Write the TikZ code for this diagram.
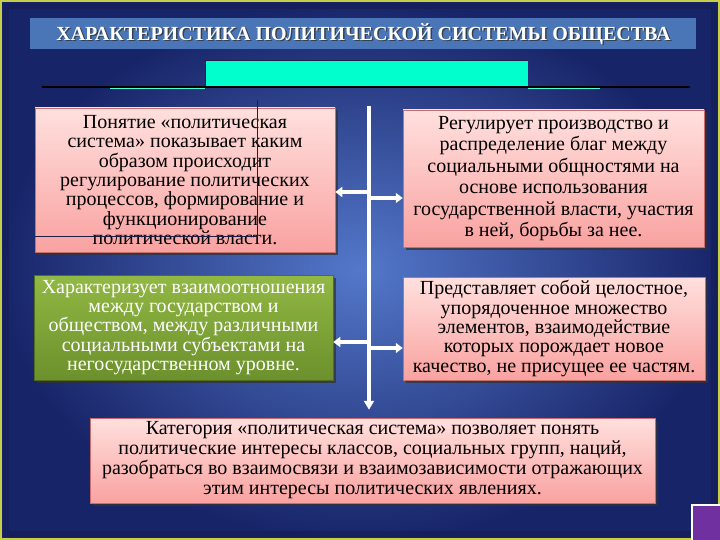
\documentclass[tikz,border=0pt]{standalone}
\usepackage{fontspec}
\setmainfont{Liberation Serif}
\usetikzlibrary{arrows.meta,shadows}
\definecolor{bgin}{RGB}{84,120,202}
\definecolor{bgout}{RGB}{24,36,104}
\definecolor{titlebar}{RGB}{74,118,184}
\definecolor{cyanbar}{RGB}{0,255,204}
\definecolor{pinktop}{RGB}{255,224,222}
\definecolor{pinkbot}{RGB}{249,162,160}
\definecolor{pinkedge}{RGB}{200,110,110}
\definecolor{greentop}{RGB}{146,184,68}
\definecolor{greenbot}{RGB}{108,144,44}
\definecolor{greenedge}{RGB}{80,110,30}
\definecolor{purplesq}{RGB}{112,48,160}
\definecolor{frameline}{RGB}{200,205,70}
\definecolor{artline}{RGB}{30,30,70}
\tikzset{
  boxbase/.style={rectangle, align=center, inner sep=1pt, font=\fontsize{20}{19.4}\selectfont,
    drop shadow={shadow xshift=2.5pt, shadow yshift=-2.5pt, opacity=0.75, fill=black!80}},
  pinkbox/.style={boxbase, top color=pinktop, bottom color=pinkbot, draw=pinkedge, line width=0.5pt, text=black},
  greenbox/.style={boxbase, top color=greentop, bottom color=greenbot, draw=greenedge, line width=0.5pt, text=white},
  whitearrow/.style={draw=white, line width=3.8pt, -{Triangle[width=10pt,length=7pt]}},
  spine/.style={draw=white, line width=3.5pt, -{Triangle[width=10pt,length=9pt]}}
}
\begin{document}
\begin{tikzpicture}[x=1pt,y=-1pt]
\useasboundingbox (0,0) rectangle (720,540);
% background
\shade[inner color=bgin, outer color=bgout] (0,0) rectangle (720,540);
\draw[bgout!80!black, line width=6pt, opacity=0.6] (6,6) rectangle (714,534);
\draw[frameline, line width=1.5pt] (1,1) rectangle (719,539);
% title bar
\fill[titlebar] (30,18) rectangle (696,49);
\node[font=\fontsize{20}{22}\bfseries, text=black!80, opacity=0.8] at (365,35.5) {ХАРАКТЕРИСТИКА ПОЛИТИЧЕСКОЙ СИСТЕМЫ ОБЩЕСТВА};
\node (title) [font=\fontsize{20}{22}\bfseries, text=white] at (363.5,34) {ХАРАКТЕРИСТИКА ПОЛИТИЧЕСКОЙ СИСТЕМЫ ОБЩЕСТВА};
% cyan bar and line
\fill[cyanbar] (205,60) rectangle (528,86);
\draw[artline, line width=0.6pt] (205,86) -- (205,60) -- (528,60);
\draw[cyanbar!70!white, line width=1pt] (110,89) -- (205,89);
\draw[cyanbar!70!white, line width=1pt] (528,89) -- (600,89);
\draw[black, line width=1.2pt] (42,87) -- (690,87);
% boxes
\node (L1) [pinkbox, minimum width=300pt, minimum height=144pt] at (185,180)
 {Понятие «политическая\\ система» показывает каким\\ образом происходит\\ регулирование политических\\ процессов, формирование и\\ функционирование\\ политической власти.};
\node (R1) [pinkbox, minimum width=301pt, minimum height=137pt, font=\fontsize{20}{21.4}\selectfont] at (553.5,178.5)
 {Регулирует производство и\\ распределение благ между\\ социальными общностями на\\ основе использования\\ государственной власти, участия\\ в ней, борьбы за нее.};
\node (L2) [greenbox, minimum width=299pt, minimum height=105pt] at (183.5,327.5)
 {Характеризует взаимоотношения\\ между государством и\\ обществом, между различными\\ социальными субъектами на\\ негосударственном уровне.};
\node (R2) [pinkbox, minimum width=302pt, minimum height=103pt] at (554,328.5)
 {Представляет собой целостное,\\ упорядоченное множество\\ элементов, взаимодействие\\ которых порождает новое\\ качество, не присущее ее частям.};
\node (B) [pinkbox, minimum width=565pt, minimum height=85pt, font=\fontsize{20}{20}\selectfont] at (372.5,460.5)
 {Категория «политическая система» позволяет понять\\ политические интересы классов, социальных групп, наций,\\ разобраться во взаимосвязи и взаимозависимости отражающих\\ этим интересы политических явлениях.};
% artifact lines in L1
\draw[artline, line width=0.6pt] (257,100) -- (257,236) -- (L1.west |- 0,236);
% spine and arrows
\coordinate (top) at (369,106);
\coordinate (s1) at (369,192);
\coordinate (s2) at (369,198);
\coordinate (s3) at (369,342);
\coordinate (s4) at (369,348);
\draw[spine, shorten >=8pt] (top) -- (top |- B.north);
\draw[whitearrow] (s1) -- (L1.east |- s1);
\draw[whitearrow] (s2) -- (R1.west |- s2);
\draw[whitearrow] (s3) -- (L2.east |- s3);
\draw[whitearrow] (s4) -- (R2.west |- s4);
% purple square
\fill[purplesq] (692,505) rectangle (720,540);
\draw[white, line width=1.2pt] (692,540) -- (692,505) -- (720,505);
\end{tikzpicture}
\end{document}
